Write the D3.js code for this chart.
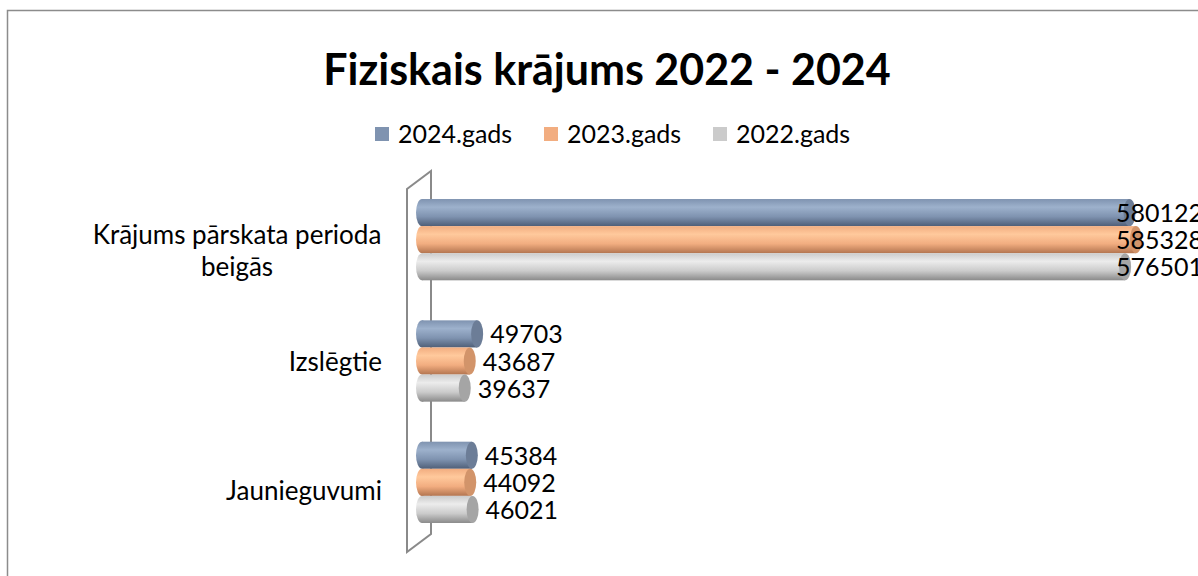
<!DOCTYPE html>
<html>
<head>
<meta charset="utf-8">
<script src="https://cdn.jsdelivr.net/npm/d3@7"></script>
<style>
  body { margin: 0; background: #fff; }
  text { font-family: Lato, "Open Sans", sans-serif; fill: #000; }
</style>
</head>
<body>
<div id="chart"></div>
<script>
var categories = ["Krājums pārskata perioda beigās", "Izslēgtie", "Jaunieguvumi"];
var seriesNames = ["2024.gads", "2023.gads", "2022.gads"];
var v2024 = [580122, 49703, 45384];
var v2023 = [585328, 43687, 44092];
var v2022 = [576501, 39637, 46021];
var seriesValues = [v2024, v2023, v2022];

var width = 1198, height = 576;
var colors = {
  "2024.gads": {base: "#7f93b0", light: "#9db1cc", dark: "#4f5f78", cap: "#6c7d97"},
  "2023.gads": {base: "#f2ad80", light: "#ffc99c", dark: "#b37550", cap: "#d2946a"},
  "2022.gads": {base: "#cbcbcb", light: "#ececec", dark: "#8a8a8a", cap: "#a5a5a5"}
};

var svg = d3.select("#chart").append("svg")
  .attr("width", width)
  .attr("height", height);

// outer border
svg.append("rect")
  .attr("x", 7.5).attr("y", 10.5)
  .attr("width", width + 20).attr("height", height + 20)
  .attr("fill", "none").attr("stroke", "#8c8c8c").attr("stroke-width", 1.5);

svg.append("text")
  .attr("x", 607).attr("y", 85)
  .attr("text-anchor", "middle")
  .style("font-size", "43px").style("font-weight", "bold")
  .text("Fiziskais krājums 2022 - 2024");

// gradients for cylinders
var defs = svg.append("defs");
seriesNames.forEach(function(s, i) {
  var c = colors[s];
  var g = defs.append("linearGradient").attr("id", "grad" + i)
    .attr("x1", 0).attr("y1", 0).attr("x2", 0).attr("y2", 1);
  g.append("stop").attr("offset", "0%").attr("stop-color", c.base);
  g.append("stop").attr("offset", "30%").attr("stop-color", c.light);
  g.append("stop").attr("offset", "65%").attr("stop-color", c.base);
  g.append("stop").attr("offset", "100%").attr("stop-color", c.dark);
});

// legend
var legendX = [375, 544, 713];
var legend = svg.append("g");
seriesNames.forEach(function(s, i) {
  legend.append("rect")
    .attr("x", legendX[i]).attr("y", 127)
    .attr("width", 14).attr("height", 14)
    .attr("fill", colors[s].base);
  legend.append("text")
    .attr("x", legendX[i] + 23).attr("y", 143)
    .style("font-size", "25px")
    .text(s);
});

var x = d3.scaleLinear().domain([0, 600000]).range([416, 1154]);
var y = d3.scaleBand().domain(categories).range([179, 543])
  .paddingInner(0.33).paddingOuter(0.165);
var ySub = d3.scaleBand().domain(seriesNames).range([0, y.bandwidth()]);

// 3D wall
svg.append("path")
  .attr("d", "M431,171 L431,534 L407,552 L407,189 Z")
  .attr("fill", "none").attr("stroke", "#8a8a8a").attr("stroke-width", 2);

// category labels
var catLabels = svg.append("g");
categories.forEach(function(c, i) {
  var cy = y(c) + y.bandwidth() / 2;
  if (i === 0) {
    var t = catLabels.append("text")
      .attr("text-anchor", "middle")
      .style("font-size", "26px");
    t.append("tspan").attr("x", 237).attr("y", cy + 4).text("Krājums pārskata perioda");
    t.append("tspan").attr("x", 237).attr("y", cy + 36).text("beigās");
  } else {
    catLabels.append("text")
      .attr("x", 382).attr("y", cy + (i === 1 ? 10 : 18))
      .attr("text-anchor", "end")
      .style("font-size", "26px")
      .text(c);
  }
});

// cylinders
var rx = 6;
var bars = svg.append("g");
seriesNames.forEach(function(s, si) {
  categories.forEach(function(c, ci) {
    var v = seriesValues[si][ci];
    var y0 = y(c) + ySub(s);
    var h = ySub.bandwidth();
    var x0 = x(0), x1 = x(v);
    var g = bars.append("g");
    g.append("ellipse")
      .attr("cx", x0 + rx).attr("cy", y0 + h / 2)
      .attr("rx", rx).attr("ry", h / 2)
      .attr("fill", "url(#grad" + si + ")");
    g.append("rect")
      .attr("x", x0 + rx).attr("y", y0)
      .attr("width", x1 - x0 - rx).attr("height", h)
      .attr("fill", "url(#grad" + si + ")");
    g.append("ellipse")
      .attr("cx", x1).attr("cy", y0 + h / 2)
      .attr("rx", rx).attr("ry", h / 2)
      .attr("fill", colors[s].cap);

    g.append("text")
      .attr("x", Math.min(x1 + rx + 7, 1116))
      .attr("y", y0 + h / 2)
      .attr("dy", "0.38em")
      .style("font-size", "25px")
      .text(v);
  });
});
</script>
</body>
</html>
